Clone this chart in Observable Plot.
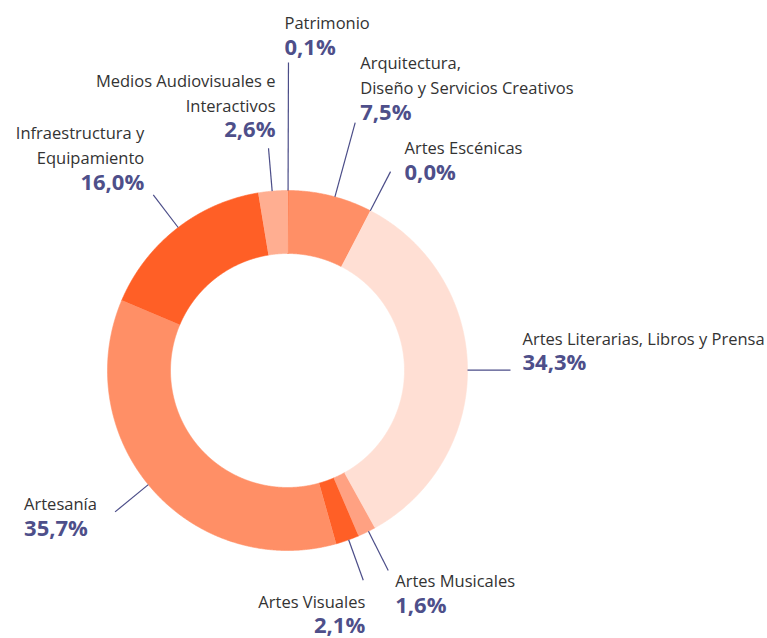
<!DOCTYPE html>
<html>
<head>
<meta charset="utf-8">
<script src="https://cdn.jsdelivr.net/npm/d3@7"></script>
<script src="https://cdn.jsdelivr.net/npm/@observablehq/plot@0.6"></script>
<style>
  html, body { margin: 0; padding: 0; background: #ffffff; }
  #chart { width: 767px; height: 638px; }
</style>
</head>
<body>
<div id="chart"></div>
<script>
// ---- Data (clockwise from 12 o'clock) ----
const categories = [
  "Patrimonio",
  "Arquitectura,\nDiseño y Servicios Creativos",
  "Artes Escénicas",
  "Artes Literarias, Libros y Prensa",
  "Artes Musicales",
  "Artes Visuales",
  "Artesanía",
  "Infraestructura y\nEquipamiento",
  "Medios Audiovisuales e\nInteractivos"
];
const values = [0.1, 7.5, 0.0, 34.3, 1.6, 2.1, 35.7, 16.0, 2.6];
const percentLabels = ["0,1%", "7,5%", "0,0%", "34,3%", "1,6%", "2,1%", "35,7%", "16,0%", "2,6%"];

// ---- Styles ----
const sliceColors = ["#ff5f26", "#ff8f66", "#ff8f66", "#ffdfd4", "#ffa182", "#ff5f26", "#ff8f66", "#ff5f26", "#ffae91"];

// ---- Layout: leader end radius, angle tweak (deg), label offset from leader end (px), text anchor ----
const leaderRadius = [308, 257, 224, 223, 224, 223, 223, 221, 223];
const leaderAngleTweak = [0, 1.4, 0, 0.7, -0.6, -0.4, 2.0, 0.8, -0.2];
const labelDx = [-4, 5, 14, 12, 7, 2, -91, -9, 7];
const labelDy = [-8, -3, 8, 0, 42, 53, 24, -5, -11];
const labelAnchor = ["start", "start", "start", "start", "start", "end", "start", "end", "end"];

const W = 767, H = 638, CX = 287, CY = 370;
const R_OUT = 180, R_IN = 117;
const TITLE_GAP = 25.5;

const data = categories.map((c, i) => ({category: c, value: values[i], pct: percentLabels[i], color: sliceColors[i], i}));
const arcs = d3.pie().sort(null).value(d => d.value)(data);

// polar -> plot coordinates (y up, angle clockwise from top)
const polar = (a, r) => [r * Math.sin(a), r * Math.cos(a)];

// slice outlines
const slicePoints = [];
arcs.forEach(a => {
  if (a.endAngle - a.startAngle <= 0) return;
  const n = Math.max(2, Math.ceil((a.endAngle - a.startAngle) / (Math.PI / 720)));
  for (let k = 0; k <= n; k++) {
    const t = a.startAngle + (a.endAngle - a.startAngle) * k / n;
    const [x, y] = polar(t, R_OUT);
    slicePoints.push({cat: a.data.category, color: a.data.color, x, y});
  }
  for (let k = n; k >= 0; k--) {
    const t = a.startAngle + (a.endAngle - a.startAngle) * k / n;
    const [x, y] = polar(t, R_IN);
    slicePoints.push({cat: a.data.category, color: a.data.color, x, y});
  }
});

// leaders & labels
const leaders = arcs.map(a => {
  const i = a.data.i;
  const mid = (a.startAngle + a.endAngle) / 2 + leaderAngleTweak[i] * Math.PI / 180;
  const [x1, y1] = polar(mid, R_OUT);
  const [x2, y2] = polar(mid, leaderRadius[i]);
  return {i, x1, y1, x2, y2,
    lx: x2 + labelDx[i], ly: y2 - labelDy[i],
    title: a.data.category, pct: a.data.pct, anchor: labelAnchor[i]};
});

const titleFont = "'Open Sans', 'Noto Sans', sans-serif";
const pctFont = "'Open Sans', 'Noto Sans', sans-serif";

function textMarks(anchor) {
  const sub = leaders.filter(d => d.anchor === anchor);
  return [
    Plot.text(sub, {
      x: "lx", y: d => d.ly + TITLE_GAP, text: "title",
      textAnchor: anchor, lineAnchor: "bottom", lineHeight: 25 / 16.5,
      fontSize: 16.5, fontFamily: titleFont, fill: "#333333"
    }),
    Plot.text(sub, {
      x: "lx", y: "ly", text: "pct",
      textAnchor: anchor, lineAnchor: "bottom",
      fontSize: 22, fontWeight: "bold", fontFamily: pctFont, fill: "#4e4f8a"
    })
  ];
}

const chart = Plot.plot({
  width: W,
  height: H,
  margin: 0,
  x: {domain: [-CX, W - CX], axis: null},
  y: {domain: [-(H - CY), CY], axis: null},
  color: {type: "identity"},
  style: {background: "#ffffff"},
  marks: [
    Plot.line(slicePoints, {x: "x", y: "y", z: "cat", fill: "color", stroke: "color", strokeWidth: 0.6, curve: "linear"}),
    Plot.link(leaders, {x1: "x1", y1: "y1", x2: "x2", y2: "y2", stroke: "#4b4d88", strokeWidth: 1.2}),
    ...textMarks("start"),
    ...textMarks("end")
  ]
});
document.getElementById("chart").appendChild(chart);
</script>
</body>
</html>
